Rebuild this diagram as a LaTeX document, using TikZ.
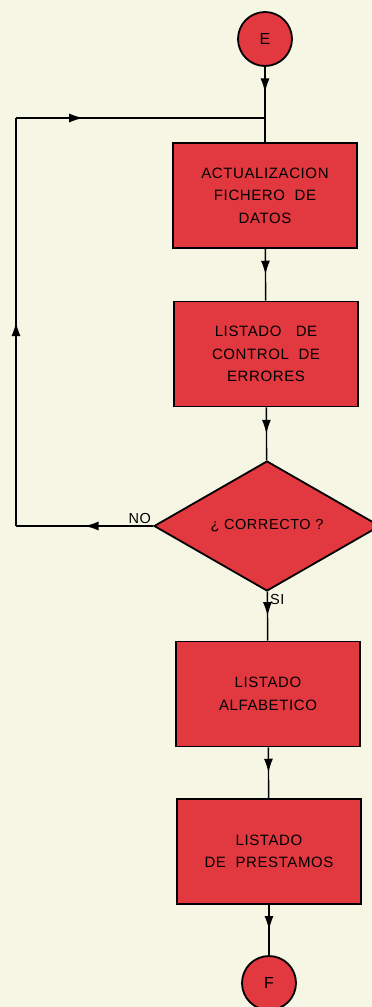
\documentclass[tikz,border=0pt]{standalone}
\usepackage{fontspec}
\setmainfont{Liberation Sans}
\newfontfamily\boxfont{Liberation Sans}[LetterSpace=4]
\usetikzlibrary{shapes.geometric,arrows.meta,decorations.markings}
\definecolor{bgcol}{RGB}{246,246,228}
\definecolor{boxred}{RGB}{226,56,64}
\tikzset{
  procbox/.style={draw=black,line width=1.8pt,fill=boxred,minimum width=184pt,minimum height=105pt,align=center,font=\boxfont\fontsize{15}{22.5}\selectfont,inner sep=0pt},
  term/.style={circle,draw=black,line width=1.8pt,fill=boxred,minimum size=54pt,inner sep=0pt,font=\fontsize{16}{17}\selectfont},
  decision/.style={diamond,draw=black,line width=1.8pt,fill=boxred,minimum width=226pt,minimum height=130pt,inner sep=0pt,aspect=1.74,font=\boxfont\fontsize{14.5}{15}\selectfont},
  conn/.style={line width=1.4pt},
  midarrow/.style={postaction={decorate,decoration={markings,mark=at position #1 with {\arrow{Latex[length=14pt,width=9pt]}}}}},
  midarrow/.default=0.5,
  lbl/.style={font=\boxfont\fontsize{14.5}{15}\selectfont,inner sep=1pt}
}
\begin{document}
\begin{tikzpicture}[x=1pt,y=-1pt]
\fill[bgcol] (0,0) rectangle (372,1007);
\useasboundingbox (0,0) rectangle (372,1007);
\node[term] (E) at (265,39) {E};
\node[procbox] (b1) at (265,195.5) {ACTUALIZACION\\FICHERO\ \ DE\\DATOS};
\node[procbox] (b2) at (266,354) {LISTADO\ \ \ DE\\CONTROL\ \ DE\\ERRORES};
\node[decision] (d) at (267,526) {¿ CORRECTO ?};
\node[procbox] (b3) at (268,694) {LISTADO\\ALFABETICO};
\node[procbox] (b4) at (269,851.5) {LISTADO\\DE\ \ PRESTAMOS};
\node[term] (F) at (269,983) {F};
\coordinate (J) at (265,118);
\coordinate (L1) at (16,118);
\coordinate (L2) at (16,526);
\draw[conn,midarrow] (E) -- (J);
\draw[conn] (J) -- (b1);
\draw[conn,midarrow] (b1) -- (b2);
\draw[conn,midarrow] (b2) -- (d);
\draw[conn,midarrow] (d) -- (b3);
\draw[conn,midarrow] (b3) -- (b4);
\draw[conn,midarrow] (b4) -- (F);
\draw[conn,midarrow] (d.west) -- (L2);
\draw[conn,midarrow] (L2) -- (L1);
\draw[conn,midarrow=0.27] (L1) -- (J);
\node[lbl,anchor=south east] (no) at ([xshift=-1pt,yshift=1pt]d.west) {NO};
\node[lbl,anchor=north west] (si) at ([xshift=2pt,yshift=-1pt]d.south) {SI};
\end{tikzpicture}
\end{document}
